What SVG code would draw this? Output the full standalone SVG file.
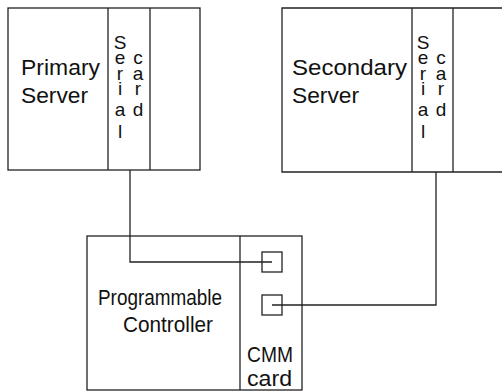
<svg xmlns="http://www.w3.org/2000/svg" width="502" height="392" viewBox="0 0 502 392">
<style>
.b{fill:none;stroke:#222;stroke-width:1.3}
.c{fill:none;stroke:#222;stroke-width:1.3}
.t{font-family:"Liberation Sans",Arial,sans-serif;font-size:22px;fill:#111}
.s{font-family:"Liberation Sans",Arial,sans-serif;font-size:19px;fill:#111;text-anchor:middle}
</style>
<rect width="502" height="392" fill="#fff"/>
<g id="primary-server">
<rect class="b" x="8" y="8" width="192" height="162"/>
<line class="b" x1="108" y1="8" x2="108" y2="170"/>
<line class="b" x1="150" y1="8" x2="150" y2="170"/>
<text class="t" x="21" y="75" textLength="79" lengthAdjust="spacingAndGlyphs">Primary</text>
<text class="t" x="21" y="103" textLength="67" lengthAdjust="spacingAndGlyphs">Server</text>
<text class="s" x="120"><tspan x="120" y="49">S</tspan><tspan x="120" y="64">e</tspan><tspan x="120" y="80">r</tspan><tspan x="120" y="95">i</tspan><tspan x="120" y="116">a</tspan><tspan x="120" y="138">l</tspan></text>
<text class="s" x="138"><tspan x="138" y="64">c</tspan><tspan x="138" y="80">a</tspan><tspan x="138" y="95">r</tspan><tspan x="138" y="116">d</tspan></text>
</g>
<g id="secondary-server">
<path class="b" d="M510,8 H282 V172 H510"/>
<line class="b" x1="412" y1="8" x2="412" y2="172"/>
<line class="b" x1="453" y1="8" x2="453" y2="172"/>
<text class="t" x="292" y="75" textLength="115" lengthAdjust="spacingAndGlyphs">Secondary</text>
<text class="t" x="292" y="103" textLength="67" lengthAdjust="spacingAndGlyphs">Server</text>
<text class="s"><tspan x="423" y="49">S</tspan><tspan x="423" y="64">e</tspan><tspan x="423" y="80">r</tspan><tspan x="423" y="95">i</tspan><tspan x="423" y="116">a</tspan><tspan x="423" y="138">l</tspan></text>
<text class="s"><tspan x="441" y="64">c</tspan><tspan x="441" y="80">a</tspan><tspan x="441" y="95">r</tspan><tspan x="441" y="116">d</tspan></text>
</g>
<g id="controller">
<rect class="b" x="87" y="236" width="215" height="154"/>
<line class="b" x1="240" y1="236" x2="240" y2="390"/>
<rect class="b" x="262" y="252" width="20" height="20"/>
<rect class="b" x="262" y="295" width="20" height="20"/>
<text class="t" x="98" y="305" textLength="124" lengthAdjust="spacingAndGlyphs">Programmable</text>
<text class="t" x="123" y="332" textLength="90" lengthAdjust="spacingAndGlyphs">Controller</text>
<text class="t" x="247" y="362" textLength="46" lengthAdjust="spacingAndGlyphs">CMM</text>
<text class="t" x="247" y="386" textLength="45" lengthAdjust="spacingAndGlyphs">card</text>
</g>
<g id="connectors">
<polyline class="c" points="130,170 130,262 272,262"/>
<polyline class="c" points="436,172 436,305 272,305"/>
</g>
</svg>
